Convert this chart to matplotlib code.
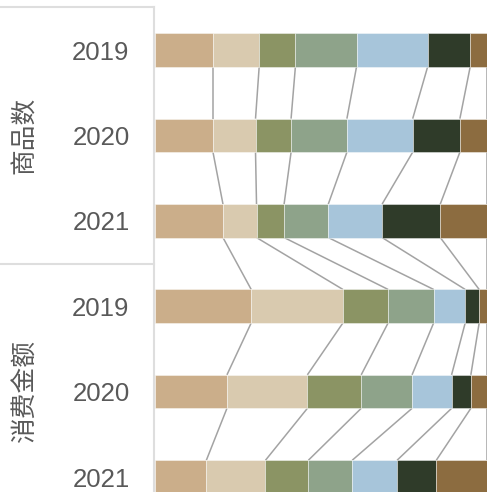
import matplotlib
matplotlib.use("Agg")
import matplotlib.pyplot as plt
from matplotlib.lines import Line2D
import numpy as np

# ---- data ----
groups = ["商品数", "消费金额"]
years = ["2019", "2020", "2021"]
row_labels = years + years
# segment shares (%) for each row, 7 segments
shares_2019_goods = [17.6, 13.9, 10.9, 18.4, 21.4, 12.8, 5.0]
shares_2020_goods = [17.6, 12.8, 10.7, 16.8, 19.8, 14.2, 8.1]
shares_2021_goods = [20.6, 10.1, 8.3, 13.3, 16.2, 17.5, 14.0]
shares_2019_spend = [29.1, 27.6, 13.6, 13.7, 9.5, 4.2, 2.3]
shares_2020_spend = [21.8, 24.2, 16.2, 15.3, 11.9, 5.8, 4.8]
shares_2021_spend = [15.6, 17.8, 12.9, 13.2, 13.5, 11.8, 15.2]
seg_colors = ["#CBAE8A", "#D9CAAF", "#8B9464", "#8EA38A", "#A7C5DA", "#2F3B29", "#8C6C40"]

rows = [shares_2019_goods, shares_2020_goods, shares_2021_goods,
        shares_2019_spend, shares_2020_spend, shares_2021_spend]

W, H = 488, 492
fig = plt.figure(figsize=(W / 100, H / 100), dpi=100)

ax_left, ax_right = 154.5, 486.8
top_px, bot_px = 7.0, 492.0
ax = fig.add_axes([ax_left / W, 1 - bot_px / H, (ax_right - ax_left) / W, (bot_px - top_px) / H])

row_c0, row_step = 50.0, 85.4
ax.set_ylim((bot_px - row_c0) / row_step, (top_px - row_c0) / row_step)
ax.set_xlim(0, 1)
bar_h = 33.5 / row_step

cums = []
for i, r in enumerate(rows):
    vals = np.array(r, dtype=float)
    vals = vals / vals.sum()
    left = np.concatenate([[0], np.cumsum(vals)[:-1]])
    ax.barh([i] * len(vals), vals, left=left, height=bar_h, color=seg_colors,
            edgecolor=(1, 1, 1, 0.6), linewidth=0.5, zorder=3)
    cums.append(np.cumsum(vals))

for i in range(len(rows) - 1):
    for a, b in zip(cums[i], cums[i + 1]):
        ax.plot([a, b], [i + bar_h / 2, i + 1 - bar_h / 2], color="#A3A3A3",
                lw=1.1, zorder=2, solid_capstyle="butt")

ax.axis("off")

# header lines
lc = "#DEDEDE"
x_border = 153.5 / W
fig.add_artist(Line2D([0, x_border], [1 - top_px / H] * 2, color=lc, lw=1.5))
fig.add_artist(Line2D([x_border, x_border], [1 - top_px / H, 0], color=lc, lw=1.5))
sep_y = 1 - (row_c0 + 2.5 * row_step) / H
fig.add_artist(Line2D([0, x_border], [sep_y, sep_y], color=lc, lw=1.5))

# labels
for i, lab in enumerate(row_labels):
    y = 1 - (row_c0 + i * row_step + 9.6) / H
    fig.text(129.5 / W, y, lab, ha="right", va="baseline", fontsize=18.5,
             color="#595959", family=["Liberation Sans", "DejaVu Sans"])

for g, lab in enumerate(groups):
    y = 1 - (row_c0 + (3 * g + 1) * row_step) / H
    fig.text(25.5 / W, y, lab, ha="center", va="center", rotation=90, fontsize=18.5,
             color="#595959", family=["Noto Sans CJK SC", "DejaVu Sans"])

fig.savefig("out.png", dpi=100)
